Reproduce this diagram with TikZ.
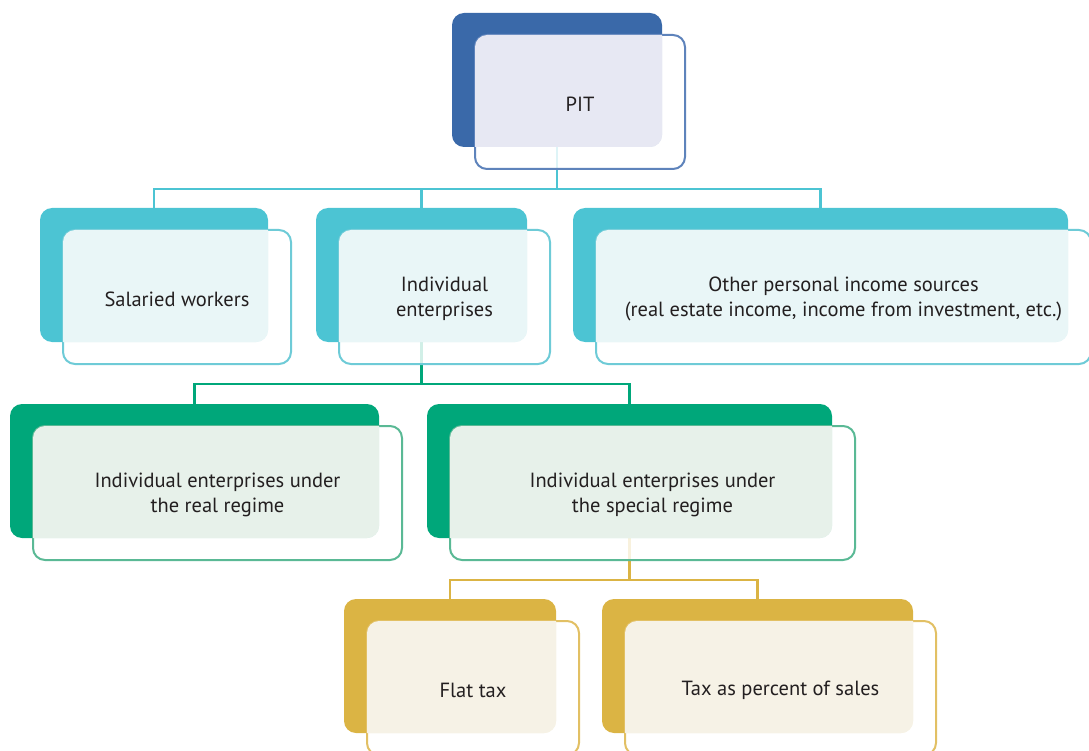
\documentclass[tikz,border=0pt]{standalone}
\usepackage{fontspec}
\setmainfont{PT Sans}
\definecolor{bB}{HTML}{3A69A9}\definecolor{bL}{HTML}{5E83BB}\definecolor{bF}{HTML}{E7E8F3}
\definecolor{cB}{HTML}{4CC4D3}\definecolor{cL}{HTML}{6ECBD7}\definecolor{cF}{HTML}{E9F6F7}
\definecolor{gB}{HTML}{00A77A}\definecolor{gL}{HTML}{5AB995}\definecolor{gF}{HTML}{E7F1EA}
\definecolor{yB}{HTML}{DBB444}\definecolor{yL}{HTML}{E2C064}\definecolor{yF}{HTML}{F6F2E6}
\definecolor{ink}{HTML}{231F20}
\pgfdeclarelayer{bg}
\pgfsetlayers{bg,main}
\tikzset{
  backbox/.style={rectangle, rounded corners=12pt, inner sep=0pt, outer sep=0pt, minimum height=134},
  frontbox/.style={rectangle, rounded corners=12pt, inner sep=0pt, outer sep=0pt, minimum height=134, fill=white, fill opacity=0.82, line width=2pt},
  txt/.style={text=ink, align=center, font=\fontsize{20.5}{25}\selectfont, inner sep=0pt},
  conn/.style={line width=2.4pt}
}
\newcommand\blk[6]{%
  \node[backbox, fill=#5B, minimum width={#4-#2}] (#1B) at ({(#2+#4)/2},{#3+67}) {};
  \node[frontbox, draw=#5L, minimum width={#4-#2}] (#1F) at ({(#2+#4)/2+23},{#3+67+22}) {};
  \begin{scope}
    \clip[rounded corners=12pt] (#1B.south west) rectangle (#1B.north east);
    \fill[#5F, rounded corners=12pt] (#1F.south west) rectangle (#1F.north east);
  \end{scope}
  \node[txt] (#1T) at ([yshift=-2pt]#1F.center) {#6};
}
\begin{document}
\begin{tikzpicture}[x=1pt,y=-1pt]
\useasboundingbox (0,0) rectangle (1089,751);
\clip (0,0) rectangle (1089,751);
\blk{pit}{452}{13}{662}{b}{PIT}
\blk{sal}{40}{208}{268}{c}{Salaried workers}
\blk{ind}{316}{208}{527}{c}{Individual\\enterprises}
\blk{oth}{573}{208}{1068}{c}{Other personal income sources\\(real estate income, income from investment, etc.)}
\blk{real}{10}{404}{379}{g}{Individual enterprises under\\the real regime}
\blk{spec}{427}{404}{832}{g}{Individual enterprises under\\the special regime}
\blk{flat}{344}{599}{556}{y}{Flat tax}
\blk{pct}{602}{599}{913}{y}{Tax as percent of sales}
\coordinate (bus1) at (0,189);
\coordinate (bus2) at (0,384);
\coordinate (bus3) at (0,580);
\begin{pgfonlayer}{bg}
\draw[conn, cB] (pitB.south) -- (pitB.south |- bus1) -| (salB.north);
\draw[conn, cB] (pitB.south |- bus1) -| (indB.north);
\draw[conn, cB] (pitB.south |- bus1) -| (othB.north);
\draw[conn, gB] (indB.south) -- (indB.south |- bus2) -| (realB.north);
\draw[conn, gB] (indB.south |- bus2) -| (specB.north);
\draw[conn, yB] (specB.south) -- (specB.south |- bus3) -| (flatB.north);
\draw[conn, yB] (specB.south |- bus3) -| (pctB.north);
\end{pgfonlayer}
\end{tikzpicture}
\end{document}
